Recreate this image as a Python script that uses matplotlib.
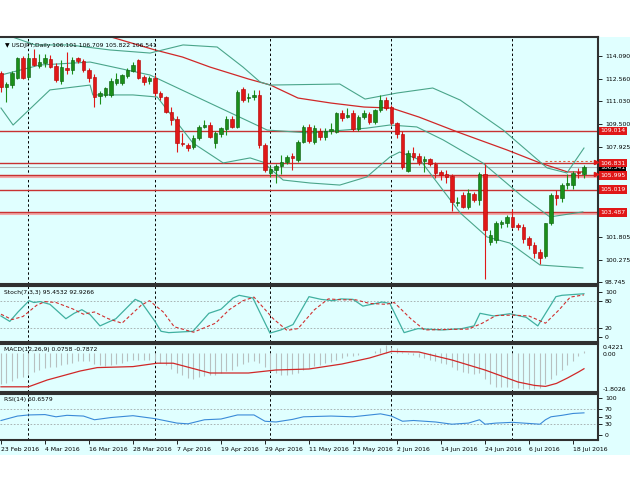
import matplotlib
matplotlib.use('Agg')
import matplotlib.pyplot as plt
import matplotlib.transforms as mtrans
from matplotlib.patches import Rectangle

# ---------------- data ----------------
opens = [112.96,112.01,112.12,112.58,113.93,112.69,113.93,113.43,113.59,113.89,
         113.41,112.40,113.25,113.14,113.93,113.75,113.14,112.69,111.40,111.45,
         111.45,112.24,112.24,112.76,113.10,113.82,112.64,112.40,112.58,111.56,
         111.33,110.32,109.80,108.20,108.06,107.94,108.50,109.30,109.41,108.17,
         108.80,109.17,109.80,109.30,111.83,111.22,111.33,111.45,108.06,106.18,
         106.36,106.60,106.93,107.31,107.04,108.28,109.30,108.28,109.00,108.58,
         109.03,108.96,110.20,109.93,110.20,109.12,109.98,110.13,109.64,110.43,
         111.10,110.65,109.53,108.80,106.32,107.54,107.30,107.00,107.08,106.77,
         106.20,106.09,105.95,104.15,104.67,103.85,104.73,104.30,106.10,101.50,
         101.60,102.70,102.74,103.15,102.61,102.52,101.73,101.28,100.78,100.53,
         102.74,104.67,104.44,105.34,105.34,106.25,106.10]
highs = [113.10,112.35,113.05,114.00,114.10,114.25,114.55,114.20,114.20,114.15,
         113.60,113.80,114.38,114.00,114.05,113.90,113.30,112.90,111.70,112.00,
         112.60,112.96,112.90,113.30,113.71,113.87,112.80,112.70,112.80,111.72,
         111.40,110.61,110.00,108.85,108.20,108.70,109.40,109.75,109.60,109.00,
         109.30,110.00,110.00,111.80,112.00,111.56,111.80,111.80,108.20,106.60,
         106.80,107.40,107.40,107.50,108.40,109.40,109.50,109.40,109.20,109.20,
         109.57,110.30,110.40,110.54,110.40,110.10,110.43,110.30,110.50,111.45,
         111.30,110.80,109.60,109.00,107.70,107.90,107.50,107.30,107.20,106.90,
         106.36,106.36,106.10,104.50,104.90,105.10,104.90,106.20,106.80,102.30,
         102.90,103.00,103.30,103.70,102.80,102.70,101.90,101.50,101.00,102.80,
         104.80,105.00,105.50,106.10,106.30,106.50,106.71]
lows = [111.65,111.00,111.90,112.50,112.50,112.50,113.40,113.25,113.35,113.25,
        112.30,112.20,112.90,112.90,113.60,113.00,112.30,110.61,110.83,111.30,
        111.30,112.10,112.10,112.60,113.00,112.50,112.10,112.20,111.40,111.10,
        110.20,109.41,107.60,108.00,107.67,107.80,108.40,109.20,108.50,107.83,
        108.60,108.70,109.20,109.20,111.00,111.00,111.10,107.83,106.20,105.90,
        105.50,106.10,106.80,106.36,106.90,108.20,108.20,108.10,108.40,108.40,
        108.80,108.90,109.70,109.90,109.00,109.00,109.80,109.50,109.50,110.30,
        110.40,109.40,108.50,106.40,106.20,107.04,106.70,106.25,106.60,105.80,
        105.70,105.46,103.55,103.90,103.80,103.70,104.20,104.00,98.95,101.30,
        101.40,102.40,102.50,102.40,102.30,101.40,101.00,100.40,100.00,100.40,
        102.60,104.00,104.20,105.10,105.10,105.80,105.82]
closes = [112.01,112.22,112.96,113.93,112.58,113.93,113.48,113.66,113.93,113.37,
          112.46,113.35,113.14,113.82,113.75,113.14,112.58,111.33,111.56,111.90,
          112.42,112.51,112.80,113.14,113.48,112.58,112.30,112.58,111.56,111.33,
          110.32,109.75,108.17,108.12,107.83,108.50,109.30,109.41,108.62,108.85,
          109.19,109.80,109.30,111.67,111.11,111.33,111.45,108.06,106.36,106.40,
          106.63,106.93,107.26,107.15,108.28,109.25,108.35,109.19,108.58,109.00,
          109.12,110.20,109.87,110.09,109.12,109.93,110.20,109.64,110.43,111.10,
          110.54,109.53,108.80,106.59,107.54,107.27,106.93,107.10,106.77,106.14,
          106.05,105.91,104.20,104.22,103.85,104.80,104.33,106.10,102.29,101.95,
          102.74,102.86,103.20,102.52,102.52,101.66,101.28,100.71,100.37,102.74,
          104.67,104.44,105.34,105.46,106.18,106.14,106.54]

# Bollinger bands / moving average (bar index, price)
bb_up_x = [0, 6.2, 12.5, 19.8, 27.1, 33.1, 39.3, 44, 47.1, 48.9, 61.6, 66.2, 72, 78.5, 83.5, 91.3, 99.3, 102.9, 106]
bb_up_y = [115.65, 114.84, 114.84, 114.5, 114.29, 114.84, 114.7, 113.34, 112.33, 112.12, 112.19, 111.17, 111.58, 111.92, 111.1, 109.07, 106.5, 106.16, 107.85]
bb_mid_x = [0, 7.1, 16.2, 27.1, 48.4, 56.2, 66.5, 70.7, 75.6, 80.4, 87.6, 94.9, 99.8, 105.8]
bb_mid_y = [112.8, 113.48, 113.68, 112.8, 109.07, 108.87, 109.2, 109.41, 109.28, 108.4, 106.84, 104.53, 103.18, 103.52]
bb_lo_x = [0, 2.2, 8.9, 16.2, 16.7, 24, 28.4, 34.9, 40.4, 45.3, 47.6, 51.3, 56.2, 61.6, 66.5, 70.7, 72.5, 76.2, 83.5, 88.4, 92.5, 98, 105.8]
bb_lo_y = [110.56, 109.41, 111.79, 112.12, 111.45, 111.45, 111.31, 108.19, 106.84, 107.18, 106.9, 105.68, 105.48, 105.34, 105.89, 107.24, 107.58, 107.04, 103.45, 101.82, 101.41, 99.92, 99.72]
ma_x = [12, 20, 28, 33, 38, 45, 49, 54, 60, 66, 71, 76, 83, 92, 98, 103, 106]
ma_y = [115.95, 115.38, 114.5, 114.02, 113.34, 112.53, 112.12, 111.24, 110.9, 110.63, 110.56, 109.95, 108.94, 107.72, 106.84, 106.23, 106.23]

levels = [109.014, 106.831, 105.995, 105.019, 103.487]
pale_levels = [105.995, 103.487]
bid_price = 106.541
price_ticks = [114.090, 112.560, 111.030, 109.500, 107.925, 106.395, 104.865, 103.335, 101.805, 100.275, 98.745]
price_tick_labels = ['114.090', '112.560', '111.030', '109.500', '107.925', '', '', '', '101.805', '100.275', '98.745']

stoch_k_x = [0,1.6,3.1,5.1,6,7.1,8.9,11.8,13.3,14.7,16.2,18,20.9,24.4,25.5,28,29.1,30.5,34.9,37.8,40,42.2,43.3,45.8,48.9,50.9,53.1,56,58.2,60.4,61.8,64,65.8,69.3,70.7,73.3,75.8,80.2,83.8,86,87.1,89.6,92.5,95.5,97.6,100.9,102,106]
stoch_k_v = [46,34,55,80,76,78,72,40,52,60,49,24,40,83,77,34,12,9,12,52,61,86,92,86,8,15,27,89,83,80,84,83,68,77,74,9,18,15,18,24,52,46,51,43,24,89,92,95.45]
stoch_d_x = [0,2,4,6.5,8,10,13,15,17,19.5,22,25.5,27,29.5,31.5,35,39,41.5,44,46,49.5,52,54,57,59.5,62,64.5,67,70,71.5,74.5,77,81,85,87.5,90,93,96,99,101.5,103.5,106]
stoch_d_v = [50,38,45,70,78,76,62,50,55,40,30,70,80,55,22,10,30,60,80,88,40,14,18,60,84,82,82,74,72,76,40,15,16,17,30,47,48,46,30,60,88,92.93]

macd_main = [-1.55,-1.5,-1.4,-1.25,-1.2,-1.05,
             -0.95,-0.85,-0.75,-0.7,-0.7,-0.62,-0.55,
             -0.48,-0.42,-0.4,-0.42,-0.55,-0.62,-0.65,-0.6,
             -0.55,-0.5,-0.42,-0.35,-0.35,-0.36,-0.36,-0.42,
             -0.5,-0.62,-0.78,-0.98,-1.12,-1.25,-1.28,
             -1.22,-1.15,-1.12,-1.08,-1.0,-0.9,-0.85,-0.65,
             -0.55,-0.45,-0.38,-0.5,-0.72,-0.9,-1.02,
             -1.08,-1.08,-1.06,-0.98,-0.85,-0.76,-0.66,
             -0.6,-0.52,-0.45,-0.33,-0.25,-0.17,-0.15,
             -0.08,0.0,0.02,0.1,0.25,0.4221,0.32,
             0.25,0.05,-0.05,-0.12,-0.2,-0.27,-0.33,
             -0.42,-0.5,-0.56,-0.72,-0.85,-0.95,-1.0,
             -1.05,-0.98,-1.3,-1.55,-1.68,-1.72,-1.72,
             -1.74,-1.76,-1.78,-1.80,-1.8026,-1.75,-1.55,
             -1.32,-1.1,-0.85,-0.62,-0.38,-0.15,0.0758]
macd_sig_x = [0, 5, 8.4, 14.4, 17.5, 24, 28.4, 31.3, 38, 45, 50, 56, 62, 67, 71, 76, 82, 88, 94, 97, 99, 101, 103, 105, 106]
macd_sig_v = [-1.69, -1.69, -1.35, -0.9, -0.73, -0.68, -0.51, -0.51, -1.0, -1.0, -0.85, -0.8, -0.55, -0.25, 0.08, 0.05, -0.35, -0.85, -1.45, -1.62, -1.67, -1.52, -1.25, -0.95, -0.7872]

rsi_x = [0,3,5,8,10,12,15,17,20,24,28,32,34,37,40,43,46,48,50,53,55,60,64,69,71,73,75,79,82,85,87,88,90,93,98,99,100,102,104,106]
rsi_v = [40,52,55,56,50,54,52,42,48,53,45,33,31,42,44,55,55,38,36,43,50,52,50,58,52,38,40,36,30,33,42,30,33,35,30,42,50,54,59,60.66]

sep_bars = [5, 28, 49, 71, 93]
date_ticks = [0, 8, 16, 24, 32, 40, 48, 56, 64, 72, 80, 88, 96, 104]
date_labels = ['23 Feb 2016', '4 Mar 2016', '16 Mar 2016', '28 Mar 2016', '7 Apr 2016',
               '19 Apr 2016', '29 Apr 2016', '11 May 2016', '23 May 2016', '2 Jun 2016',
               '14 Jun 2016', '24 Jun 2016', '6 Jul 2016', '18 Jul 2016']

# ---------------- drawing ----------------
W, H = 630, 490
BG = '#e0ffff'
plt.rcParams['font.family'] = ['DejaVu Sans']
FS = 4.4
FL = 4.3
fig = plt.figure(figsize=(6.3, 4.9), dpi=100)
fig.patches.append(Rectangle((0, 1 - 455 / H), 1, (455 - 37) / H, transform=fig.transFigure,
                             facecolor=BG, edgecolor='none', zorder=-10))

def ax_at(x0, y0, x1, y1):
    a = fig.add_axes([x0 / W, 1 - y1 / H, (x1 - x0) / W, (y1 - y0) / H])
    a.set_facecolor(BG)
    a.set_xlim(-0.18, 108.55)
    a.spines['left'].set_visible(False)
    for s in ['top', 'right', 'bottom']:
        a.spines[s].set_color('#303030')
        a.spines[s].set_linewidth(1.5)
    a.tick_params(axis='x', bottom=False, labelbottom=False)
    a.yaxis.tick_right()
    a.tick_params(axis='y', labelsize=FS, length=3, width=0.6, pad=2, colors='#000000')
    for b in sep_bars:
        a.axvline(b, color='#000000', lw=0.7, ls=(0, (2.5, 2.5)), zorder=1)
    return a

ax = ax_at(0, 37, 598, 284)
ax.set_ylim(98.632, 115.378)
ax.set_yticks(price_ticks)
ax.set_yticklabels(price_tick_labels)

# horizontal levels
for lv in pale_levels:
    ax.axhline(lv - 0.06, color='#f2aaaa', lw=2.2, zorder=1.5)
for lv in levels:
    ax.axhline(lv, color='#c83232', lw=1.0, zorder=2)
ax.axhline(bid_price, color='#b0b8b8', lw=0.8, zorder=1.6)
ax.plot([99, 108.55], [107.0, 107.0], color='#e06040', lw=0.8, ls=(0, (2, 2)), zorder=2)

# indicators on main
ax.plot(ma_x, ma_y, color='#d02828', lw=0.9, zorder=2.5)
for xs, ys in [(bb_up_x, bb_up_y), (bb_mid_x, bb_mid_y), (bb_lo_x, bb_lo_y)]:
    ax.plot(xs, ys, color='#4aa58a', lw=0.8, zorder=2.5)

# candles
n = len(opens)
for i in range(n):
    o, h, l, c = opens[i], highs[i], lows[i], closes[i]
    up = c >= o
    col = '#1a8f1a' if up else '#e01818'
    edge = '#0a5a0a' if up else '#b00000'
    ax.vlines(i, l, h, color=col, lw=0.8, zorder=3)
    bot = min(o, c)
    ht = max(abs(c - o), 0.04)
    ax.bar(i, ht, bottom=bot, width=0.62, color=col, edgecolor=edge, linewidth=0.4, zorder=4)

# level labels on the right
tr = mtrans.blended_transform_factory(ax.transAxes, ax.transData)
ax.text(1.004, bid_price, f'{bid_price:.3f}', transform=tr, fontsize=FS, color='white', ha='left', va='center',
        bbox=dict(boxstyle='square,pad=0.15', fc='#000000', ec='none'), zorder=9, clip_on=False)
for lv in levels:
    ax.text(1.004, lv, f'{lv:.3f}', transform=tr, fontsize=FS, color='white', ha='left', va='center',
            bbox=dict(boxstyle='square,pad=0.3', fc='#e01818', ec='none'), zorder=10, clip_on=False)
for lv in [106.831, 105.995]:
    ax.plot([108.1], [lv + 0.1], marker='>', color='#e01818', ms=3, zorder=6, clip_on=False)

ax.text(0.008, 0.975, '\u25bc USDJPY,Daily 106.101 106.709 105.822 106.541', transform=ax.transAxes,
        fontsize=FL, color='#000000', ha='left', va='top', zorder=11)

# ---- Stochastic ----
axs = ax_at(0, 286, 598, 342)
axs.set_ylim(-11.8, 112.7)
axs.set_yticks([100, 80, 20, 0])
axs.set_yticklabels(['100', '80', '20', '0'])
for lv in [80, 20]:
    axs.axhline(lv, color='#a0a8a8', lw=0.6, ls=(0, (2, 2)), zorder=1)
axs.plot(stoch_k_x, stoch_k_v, color='#40b0a0', lw=0.9, zorder=3)
axs.plot(stoch_d_x, stoch_d_v, color='#d03030', lw=0.8, ls=(0, (3, 2)), zorder=3)
axs.text(0.006, 0.93, 'Stoch(7,3,3) 95.4532 92.9266', transform=axs.transAxes, fontsize=FL, ha='left', va='top')

# ---- MACD ----
axm = ax_at(0, 344, 598, 392)
axm.set_ylim(-1.95, 0.45)
axm.set_yticks([])
axm.vlines(range(len(macd_main)), 0, macd_main, color='#b8c0c0', lw=0.8, zorder=2)
axm.plot(macd_sig_x, macd_sig_v, color='#d02828', lw=0.9, zorder=3)
axm.text(0.006, 0.93, 'MACD(12,26,9) 0.0758 -0.7872', transform=axm.transAxes, fontsize=FL, ha='left', va='top')
trm = mtrans.blended_transform_factory(axm.transAxes, axm.transData)
axm.text(1.008, 0.4221, '0.4221', transform=trm, fontsize=FS, ha='left', va='top', clip_on=False)
axm.text(1.008, 0.06, '0.00', transform=trm, fontsize=FS, ha='left', va='top', clip_on=False)
axm.text(1.008, -1.8026, '-1.8026', transform=trm, fontsize=FS, ha='left', va='center', clip_on=False)

# ---- RSI ----
axr = ax_at(0, 394, 598, 440)
axr.set_ylim(-12.7, 111.6)
axr.set_yticks([100, 70, 50, 30, 0])
axr.set_yticklabels(['100', '70', '50', '30', '0'])
for lv in [70, 30]:
    axr.axhline(lv, color='#a0a8a8', lw=0.6, ls=(0, (2, 2)), zorder=1)
axr.plot(rsi_x, rsi_v, color='#3a8ad8', lw=0.8, zorder=3)
axr.text(0.006, 0.93, 'RSI(14) 60.6579', transform=axr.transAxes, fontsize=FL, ha='left', va='top')

axr.tick_params(axis='x', bottom=True, length=3, width=0.6, labelbottom=True, labelsize=FS, pad=2)
axr.set_xticks(date_ticks)
axr.set_xticklabels(date_labels)
for lab in axr.get_xticklabels():
    lab.set_horizontalalignment('left')

fig.savefig('out.png', dpi=100, facecolor='white')
